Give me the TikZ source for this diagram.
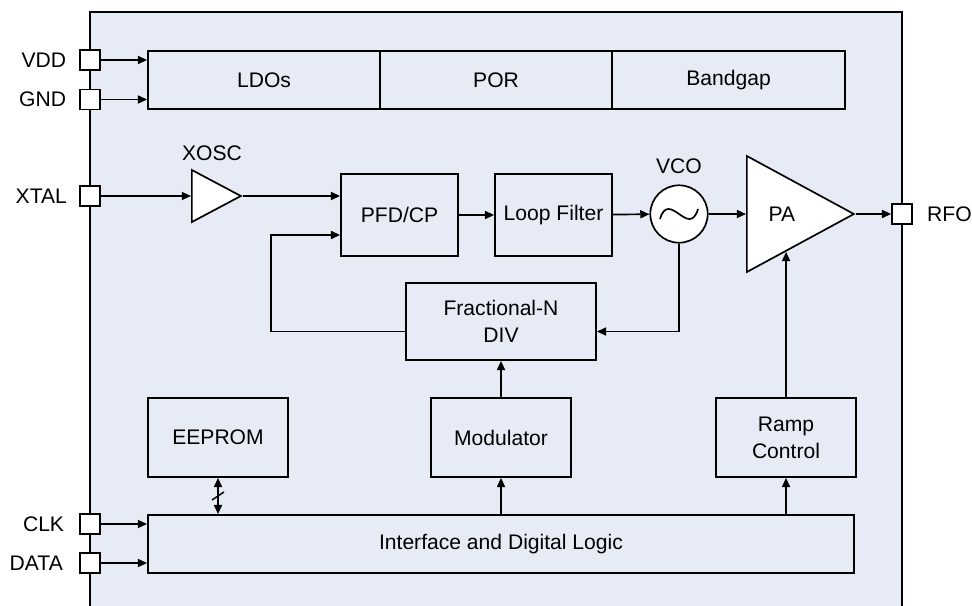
\documentclass[tikz,border=0pt]{standalone}
\usepackage{fontspec}
\setmainfont{Liberation Sans}
\usepackage{tikz}
\usetikzlibrary{arrows.meta, positioning, shapes.geometric, calc}

\definecolor{fond}{RGB}{231,235,246}

\tikzset{
  bloc/.style={draw, line width=1.2pt, inner sep=0pt, align=center},
  broche/.style={draw, fill=white, line width=1.2pt, minimum size=0.5cm, inner sep=0pt},
  fleche/.style={line width=1.2pt, -{Triangle[length=2.3mm,width=2mm]}},
  dfleche/.style={line width=1.2pt, {Triangle[length=2.3mm,width=2mm]}-{Triangle[length=2.3mm,width=2mm]}},
  ampli/.style={draw, fill=white, line width=1.2pt, isosceles triangle, isosceles triangle stretches, inner sep=0pt},
}

\begin{document}
\begin{tikzpicture}[x=0.025cm, y=-0.025cm, font=\fontsize{15}{19}\selectfont]
  \useasboundingbox (0,0) rectangle (972,605);

  % Boîtier
  \draw[fill=fond, line width=1pt] (90,607) -- (90,12) -- (902,12) -- (902,607);

  % Définitions des blocs
  \node[bloc, minimum width=5.8cm, minimum height=1.45cm] (ldo) at (264,80) {LDOs};
  \node[bloc, minimum width=5.8cm, minimum height=1.45cm, right=-1.2pt of ldo] (por) {POR};
  \node[bloc, minimum width=5.825cm, minimum height=1.45cm, right=-1.2pt of por] (bg) {Bandgap};

  \node[ampli, minimum width=1.3cm, minimum height=1.225cm, anchor=lower side] (xosc) at (191,196) {};
  \node (xosclab) at (212,153) {XOSC};
  \node[bloc, minimum width=2.925cm, minimum height=2.05cm] (pfd) at (399.5,215) {PFD/CP};
  \node[bloc, minimum width=2.925cm, minimum height=2.05cm] (lf) at (553.5,215) {Loop Filter};
  \node[draw, fill=white, circle, line width=1.2pt, minimum size=1.435cm] (vco) at (679,214) {};
  \draw[line width=1.2pt] ($(vco)+(-19,5)$) .. controls ($(vco)+(-10,-25)$) and ($(vco)+(10,25)$) .. ($(vco)+(19,-5)$);
  \node (vcolab) at (679,166) {VCO};
  \node[ampli, minimum width=2.9cm, minimum height=2.675cm, anchor=lower side] (pa) at (746,214) {PA};

  \node[bloc, minimum width=4.75cm, minimum height=1.925cm] (frac) at (501,321.5) {Fractional-N\\DIV};
  \node[bloc, minimum width=3.5cm, minimum height=1.975cm] (eeprom) at (218,437.5) {EEPROM};
  \node[bloc, minimum width=3.5cm, minimum height=1.975cm] (mod) at (501,437.5) {Modulator};
  \node[bloc, minimum width=3.5cm, minimum height=1.975cm] (ramp) at (786,437.5) {Ramp\\Control};
  \node[bloc, minimum width=17.65cm, minimum height=1.45cm] (iface) at (501,544) {Interface and Digital Logic};

  % Broches
  \node[broche] (vdd) at (90,60) {};
  \node[broche] (gnd) at (90,99.5) {};
  \node[broche] (xtal) at (90,196) {};
  \node[broche] (clk) at (90,524) {};
  \node[broche] (data) at (90,563) {};
  \node[broche] (rfo) at (902,214) {};
  \node[left=0.32cm of vdd, inner sep=0pt] (vddlab) {VDD};
  \node[left=0.32cm of gnd, inner sep=0pt] (gndlab) {GND};
  \node[left=0.3cm of xtal, inner sep=0pt] (xtallab) {XTAL};
  \node[left=0.37cm of clk, inner sep=0pt] (clklab) {CLK};
  \node[left=0.4cm of data, inner sep=0pt] (datalab) {DATA};
  \node[right=0.35cm of rfo, inner sep=0pt] (rfolab) {RFO};

  % Définition des liaisons
  \draw[fleche] (vdd) -- (vdd -| ldo.west);
  \draw[fleche] (gnd) -- (gnd -| ldo.west);
  \draw[fleche] (xtal) -- (xosc.lower side);
  \draw[fleche] (xosc.apex) -- (xosc.apex -| pfd.west);
  \draw[fleche] (pfd) -- (lf);
  \draw[fleche] (lf) -- (vco);
  \draw[fleche] (vco) -- (vco -| pa.lower side);
  \draw[fleche] (pa.apex) -- (rfo);
  \draw[fleche] (vco.south) |- ($(frac.east)+(0,10)$);
  \draw[fleche] ($(frac.west)+(0,10)$) -- ++(-134,0) |- ($(pfd.west)+(0,20)$);
  \draw[fleche] (mod) -- (frac);
  \draw[fleche] (iface.north -| mod) -- (mod);
  \draw[fleche] (iface.north -| ramp) -- (ramp);
  \draw[fleche] (ramp.north) -- (intersection of ramp.north--ramp.center and pa.apex--pa.right corner);
  \draw[dfleche] (eeprom.south) -- (eeprom.south |- iface.north);
  \draw[line width=1pt] ($(eeprom.south)!0.5!(eeprom.south |- iface.north)$) ++(-6,4) -- ++(12,-8);
  \draw[fleche] (clk) -- (clk -| iface.west);
  \draw[fleche] (data) -- (data -| iface.west);

\end{tikzpicture}
\end{document}
